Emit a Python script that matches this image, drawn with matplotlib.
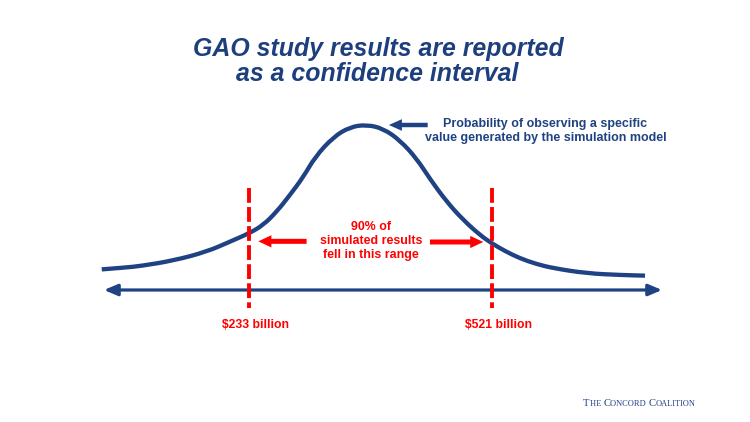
import matplotlib
matplotlib.use("Agg")
import matplotlib.pyplot as plt
from matplotlib.patches import FancyArrowPatch, PathPatch
from matplotlib.path import Path
from matplotlib.offsetbox import TextArea, HPacker, AnnotationBbox

# ---- data (x in $ billions, y = relative probability density) ----
curve_x = [58.1, 85.7, 103.5, 142.9, 182.5, 210.1, 233.0, 249.6, 265.5, 281.2,
           297.0, 310.9, 332.5, 352.3, 372.1, 391.8, 411.6, 431.4, 447.1, 466.9,
           486.6, 506.4, 520.3, 536.0, 553.8, 572.8, 593.3, 632.9, 672.3, 702.0]
curve_y = [0.125, 0.136, 0.145, 0.178, 0.232, 0.293, 0.344, 0.394, 0.475, 0.576,
           0.685, 0.806, 0.927, 0.988, 1.002, 0.978, 0.907, 0.796, 0.673, 0.535,
           0.424, 0.333, 0.283, 0.236, 0.192, 0.158, 0.132, 0.101, 0.091, 0.087]
bounds = [233, 521]
bound_labels = ["$233 billion", "$521 billion"]
axis_range = [60.8, 722.1]
title_lines = ["GAO study results are reported", "as a confidence interval"]
note_text = "Probability of observing a specific\nvalue generated by the simulation model"
range_text = "90% of\nsimulated results\nfell in this range"

NAVY = "#1f4282"
TITLE = "#1e3f7e"
RED = "#ff0000"
FONT = "Liberation Sans"

W, H = 750, 422
fig = plt.figure(figsize=(W / 100, H / 100), dpi=100)
ax = fig.add_axes([0, 0, 1, 1])
ax.set_axis_off()
# scale: 0.8438 px per $billion, 165 px per density unit
ax.set_xlim(-62.46, 826.4)
ax.set_ylim(-0.8, 1.7576)


def fp(px, py):
    return (px / W, 1 - py / H)


# curve: read points used as quadratic Bezier control points (smooth rendering)
pts = list(zip(curve_x, curve_y))
verts = [pts[0]]
codes = [Path.MOVETO]
for i in range(1, len(pts) - 1):
    mid = ((pts[i][0] + pts[i + 1][0]) / 2, (pts[i][1] + pts[i + 1][1]) / 2)
    verts += [pts[i], mid]
    codes += [Path.CURVE3, Path.CURVE3]
verts.append(pts[-1])
codes.append(Path.LINETO)
ax.add_patch(PathPatch(Path(verts, codes), facecolor="none", edgecolor=NAVY,
                       lw=3.1, capstyle="butt", joinstyle="round", zorder=3))

# horizontal double arrow axis
axis_arrow = FancyArrowPatch((axis_range[0], 0), (axis_range[1], 0),
                             arrowstyle="<|-|>,head_length=8,head_width=3.4",
                             mutation_scale=1, lw=2.3, color=NAVY,
                             shrinkA=0, shrinkB=0, zorder=3)
ax.add_patch(axis_arrow)

# red dashed bound lines
for b in bounds:
    ax.plot([b, b], [0.618, -0.109], color=RED, lw=2.8,
            dashes=(3.8, 1.1), dash_capstyle="butt", zorder=5)

# red arrows pointing to bounds
peak_y = 0.295
ax.add_patch(FancyArrowPatch((300.9, peak_y), (243.7, peak_y),
                             arrowstyle="simple,head_length=9.4,head_width=8.8,tail_width=3.6",
                             mutation_scale=1, color=RED, lw=0,
                             shrinkA=0, shrinkB=0, zorder=4))
ax.add_patch(FancyArrowPatch((447.1, peak_y - 0.004), (510.3, peak_y - 0.004),
                             arrowstyle="simple,head_length=9.4,head_width=8.8,tail_width=3.6",
                             mutation_scale=1, color=RED, lw=0,
                             shrinkA=0, shrinkB=0, zorder=4))

# navy arrow pointing to peak
ax.add_patch(FancyArrowPatch((444.4, 1.0), (398.4, 1.0),
                             arrowstyle="simple,head_length=9.4,head_width=8.4,tail_width=3.2",
                             mutation_scale=1, color=NAVY, lw=0,
                             shrinkA=0, shrinkB=0, zorder=4))

# title
fig.text(*fp(378, 56), title_lines[0], ha="center", va="baseline",
         fontsize=17.9, fontweight="bold", fontstyle="italic",
         color=TITLE, family=FONT)
fig.text(*fp(377, 81), title_lines[1], ha="center", va="baseline",
         fontsize=17.9, fontweight="bold", fontstyle="italic",
         color=TITLE, family=FONT)

# note
fig.text(*fp(545.5, 131), note_text, ha="center", va="center",
         fontsize=9.0, fontweight="bold", color=NAVY, family=FONT,
         linespacing=1.18)

# range text
fig.text(*fp(370.8, 241), range_text, ha="center", va="center",
         fontsize=8.9, fontweight="bold", color=RED, family=FONT,
         linespacing=1.17)

# bound labels
for px, lab in zip([256.0, 498.3], bound_labels):
    fig.text(*fp(px, 328.3), lab, ha="center", va="baseline",
             fontsize=8.8, fontweight="bold", color=RED, family=FONT)

# Concord Coalition small-caps logo
big, small = 7.7, 6.0
parts = [("T", big), ("HE ", small), ("C", big), ("ONCORD ", small),
         ("C", big), ("OALITION", small)]
areas = [TextArea(t, textprops=dict(fontsize=s, color=NAVY,
                                    family="Liberation Serif")) for t, s in parts]
box = HPacker(children=areas, align="baseline", pad=0, sep=0)
ab = AnnotationBbox(box, (583.3, H - 404), xycoords="figure pixels",
                    box_alignment=(0, 0.5), frameon=False, pad=0)
fig.add_artist(ab)

fig.savefig("out.png", dpi=100)
